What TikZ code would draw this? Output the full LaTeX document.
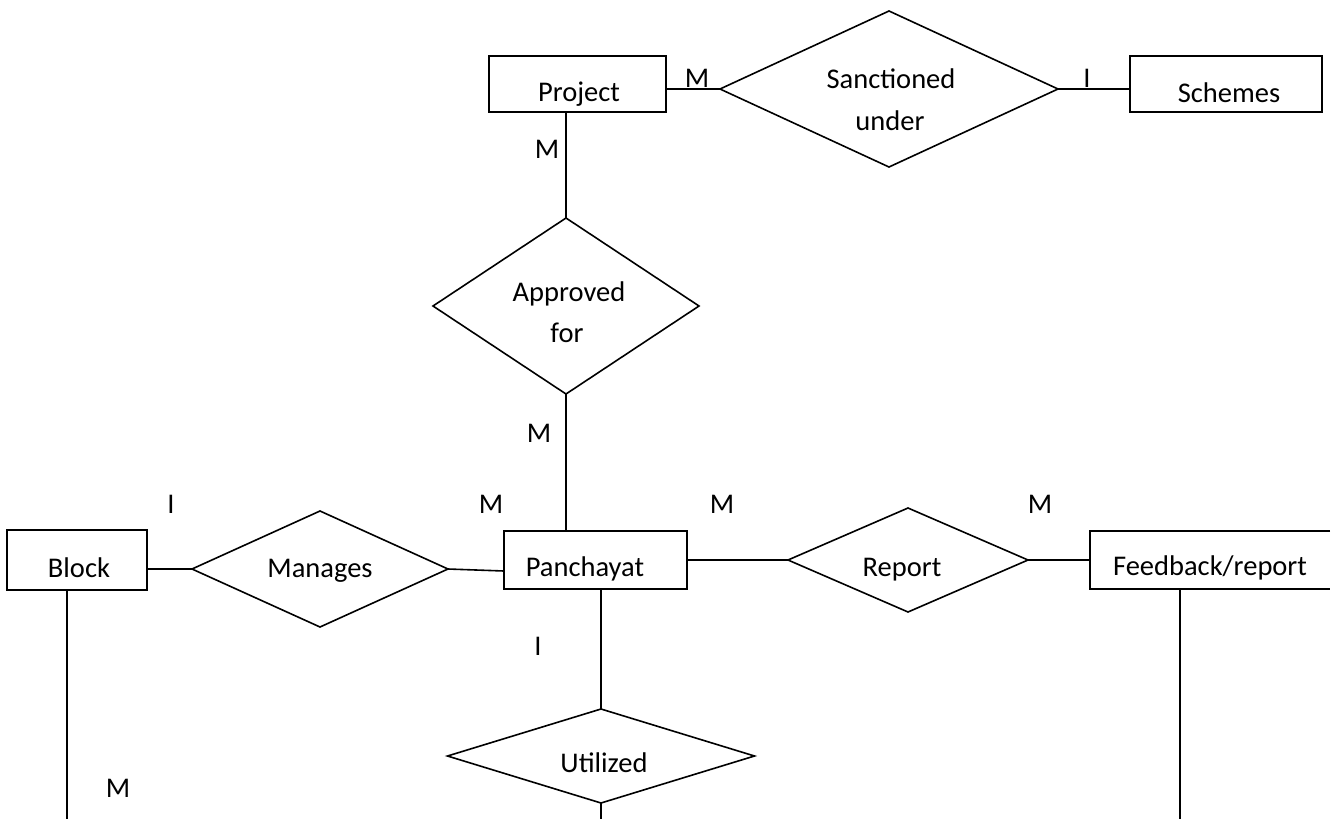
\documentclass[tikz,border=0pt]{standalone}
\usepackage{fontspec}
\setmainfont{Carlito}
\usetikzlibrary{shapes.geometric,calc}
\begin{document}
\begin{tikzpicture}[x=1pt,y=-1pt,
  every node/.style={font=\fontsize{28.5}{40}\selectfont, inner sep=0pt, outer sep=0pt},
  entity/.style={draw, rectangle, line width=1.6pt},
  rel/.style={draw, diamond, line width=1.6pt},
  conn/.style={line width=1.6pt},
  txt/.style={anchor=base},
  card/.style={anchor=base}]
\useasboundingbox (0,0) rectangle (1341,819);
% entities
\node[entity, minimum width=177pt, minimum height=56pt] (project) at (577.5,84) {};
\node[entity, minimum width=192pt, minimum height=56pt] (schemes) at (1226,84) {};
\node[entity, minimum width=140pt, minimum height=60pt] (block) at (77,560) {};
\node[entity, minimum width=183pt, minimum height=58pt] (panch) at (595.5,560) {};
\node[minimum width=240pt, minimum height=58pt] (feed) at (1210,560) {};
\draw[conn] (feed.north east) -- (feed.north west) -- (feed.south west) -- (feed.south east);
% relationships
\node[rel, minimum width=338pt, minimum height=156pt] (sanc) at (889,89) {};
\node[rel, minimum width=266pt, minimum height=176pt] (appr) at (566,306) {};
\node[rel, minimum width=256pt, minimum height=116pt] (man) at (320,569) {};
\node[rel, minimum width=240pt, minimum height=104pt] (rep) at (908,560) {};
\node[rel, minimum width=307pt, minimum height=94pt] (util) at (601,756) {};
% texts
\node[txt] (tproject) at (579,101) {Project};
\node[txt] (tschemes) at (1229,102) {Schemes};
\node[txt] (tsanc1) at (891,88) {Sanctioned};
\node[txt] (tsanc2) at (890,130) {under};
\node[txt] (tappr1) at (569,301) {Approved};
\node[txt] (tappr2) at (567,342) {for};
\node[txt] (tblock) at (79,577) {Block};
\node[txt] (tman) at (320,577) {Manages};
\node[txt] (tpanch) at (585,576) {Panchayat};
\node[txt] (trep) at (902,576) {Report};
\node[txt] (tfeed) at (1210,575) {Feedback/report};
\node[txt] (tutil) at (604,772) {Utilized};
% cardinalities
\node[card] (c1) at (697,87) {M};
\node[card] (c2) at (1087,87) {I};
\node[card] (c3) at (547,158) {M};
\node[card] (c4) at (539,442) {M};
\node[card] (c5) at (171,513) {I};
\node[card] (c6) at (491,513) {M};
\node[card] (c7) at (722,513) {M};
\node[card] (c8) at (1040,513) {M};
\node[card] (c9) at (538,655) {I};
\node[card] (c10) at (118,797) {M};
% free ends
\coordinate (blockend) at (67,819);
\coordinate (utilend) at (601,819);
\coordinate (feedend) at (1180,819);
% connectors
\draw[conn] (sanc.west) -- (sanc.west -| project.east);
\draw[conn] (sanc.east) -- (sanc.east -| schemes.west);
\draw[conn] (appr.north) -- (appr.north |- project.south);
\draw[conn] (appr.south) -- (appr.south |- panch.north);
\draw[conn] (man.west) -- ($(block.east)+(0,9)$);
\draw[conn] (man.east) -- ($(panch.west)+(0,11)$);
\draw[conn] (rep.west) -- (rep.west -| panch.east);
\draw[conn] (rep.east) -- (rep.east -| feed.west);
\draw[conn] (util.north) -- (util.north |- panch.south);
\draw[conn] (util.south) -- (utilend);
\draw[conn] (blockend |- block.south) -- (blockend);
\draw[conn] (feedend |- feed.south) -- (feedend);
\end{tikzpicture}
\end{document}
